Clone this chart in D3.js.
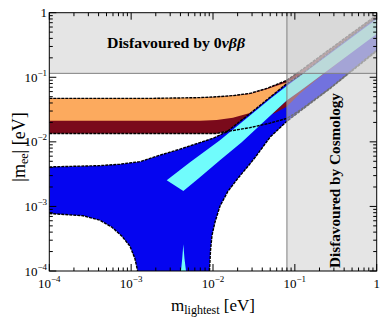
<!DOCTYPE html>
<html><head><meta charset="utf-8">
<script src="https://cdn.jsdelivr.net/npm/d3@7"></script>
<style>body{margin:0;background:#fff}svg{display:block}</style>
</head><body><svg id="c" width="382" height="319"></svg>
<script>
// ---- data (m_lightest [eV], |m_ee| [eV]) ----
const xExponents = [-4, -3, -2, -1, 0];
const yExponents = [-4, -3, -2, -1, 0];
const ihUpper = [[1e-4,0.0471],[1.70e-3,0.0471],[6.93e-3,0.0484],[0.0111,0.0499],[0.0175,0.0520],[0.0283,0.0562],[0.0453,0.0673],[0.0723,0.0851],[0.0802,0.0906],[0.116,0.125],[0.269,0.274],[1,0.92]];
const ihLower = [[1e-4,0.0135],[0.0111,0.0135],[0.0140,0.0143],[0.0283,0.0166],[0.0497,0.0195],[0.0802,0.0231],[0.116,0.031],[0.269,0.068],[1,0.264]];
const ihFillLower = [[1e-4,0.0135],[0.0111,0.0135],[0.0140,0.0143],[0.0214,0.0166],[0.0375,0.0221],[0.0573,0.0279],[0.0794,0.0351],[0.1156,0.0559],[0.176,0.0873],[1,0.484]];
const ihOrangeTop = [[1e-4,0.0469],[6.93e-3,0.0482],[0.0111,0.0497],[0.0175,0.0517],[0.0283,0.0552],[0.0453,0.0650],[0.0723,0.0798],[0.0802,0.083],[0.116,0.11],[1,0.86]];
const ihSplit = [[1e-4,0.0212],[6.93e-3,0.0212],[0.0111,0.0217],[0.0175,0.0237],[0.0283,0.0279],[0.0497,0.0371],[0.0802,0.0511],[0.1156,0.068],[1,0.539]];
const nhUpper = [[1e-4,0.00409],[4.16e-4,0.00428],[7.31e-4,0.00451],[1.28e-3,0.00493],[2.25e-3,0.00622],[3.95e-3,0.00771],[6.93e-3,0.00973],[0.0101,0.0114],[0.0147,0.0143],[0.0283,0.0274],[0.0798,0.0798],[0.116,0.108],[0.269,0.246],[1,0.857]];
const nhLowerLeft = [[1e-4,7.76e-4],[2.58e-4,7.18e-4],[4.16e-4,6.11e-4],[5.83e-4,4.76e-4],[7.73e-4,3.45e-4],[9.68e-4,2.42e-4],[1.11e-3,1.57e-4],[1.20e-3,1e-4]];
const nhLowerRight = [[9.06e-3,1e-4],[9.33e-3,2.09e-4],[9.73e-3,3.57e-4],[0.01057,5.69e-4],[0.01216,1.007e-3],[0.01524,1.72e-3],[0.0202,2.74e-3],[0.0268,4.20e-3],[0.0336,6.00e-3],[0.0498,0.01183],[0.0802,0.0209],[0.116,0.0299],[0.269,0.0668],[1,0.255]];
const cyanUpper = [[2.72e-3,2.55e-3],[5.24e-3,4.84e-3],[0.01216,0.01062],[0.0283,0.0255],[0.0497,0.0459],[0.0794,0.0731],[0.1156,0.1045],[1,0.798]];
const cyanLower = [[4.34e-3,1.74e-3],[6.93e-3,2.84e-3],[0.01216,5.20e-3],[0.02244,9.89e-3],[0.0375,0.01815],[0.0794,0.0435],[0.1156,0.0611],[1,0.468]];
const cyanSpike = [[4.06e-3,1e-4],[4.21e-3,1.57e-4],[4.34e-3,2.59e-4],[4.48e-3,1.57e-4],[4.68e-3,1e-4]];
const cosmoBound = 0.08;
const ovbbBound = 0.115;

// ---- layout ----
const L=49.3, R=376.7, T=12.7, B=271;
const x = d3.scaleLog().domain([1e-4,1]).range([L,R]);
const y = d3.scaleLog().domain([1e-4,1]).range([B,T]);
const svg = d3.select("#c");
svg.append("defs").append("clipPath").attr("id","clip")
  .append("rect").attr("x",L).attr("y",T).attr("width",R-L).attr("height",B-T);
const plot = svg.append("g").attr("clip-path","url(#clip)");
const line = d3.line().x(d=>x(d[0])).y(d=>y(d[1]));
const poly = pts => line(pts)+"Z";
const rev = a => a.slice().reverse();

const BLUE="#0505f0", CYAN="#70fcfc", DRED="#7a0a1b", ORANGE="#fcaa5e";

// NH full region
plot.append("path").attr("d", poly(nhUpper.concat(rev(nhLowerRight), rev(nhLowerLeft)))).attr("fill",BLUE);
// IH region
plot.append("path").attr("d", poly(ihUpper.concat(rev(ihFillLower)))).attr("fill",DRED);
plot.append("path").attr("d", poly(ihOrangeTop.concat(rev(ihSplit)))).attr("fill",ORANGE);
// NH upper strip over IH
const cut = 6.9e-3;
plot.append("path").attr("d", poly(nhUpper.filter(d=>d[0]>=cut).concat(rev(cyanLower.filter(d=>d[0]>=cut))))).attr("fill",BLUE);
// cyan parts
plot.append("path").attr("d", poly(cyanUpper.concat(rev(cyanLower)))).attr("fill",CYAN);
plot.append("path").attr("d", poly(cyanSpike)).attr("fill",CYAN);
// dashed boundaries
[ihUpper, ihLower, nhUpper, nhLowerLeft, nhLowerRight].forEach(a=>{
  plot.append("path").attr("d", line(a)).attr("fill","none").attr("stroke","#000")
    .attr("stroke-width",1.4).attr("stroke-dasharray","3,1");
});
// disfavoured regions
const GREY="#cfcfcf", GA=0.54;
plot.append("rect").attr("x",L).attr("y",T).attr("width",R-L).attr("height",y(ovbbBound)-T)
  .attr("fill",GREY).attr("fill-opacity",GA);
plot.append("rect").attr("x",x(cosmoBound)).attr("y",T).attr("width",R-x(cosmoBound)).attr("height",B-T)
  .attr("fill",GREY).attr("fill-opacity",GA);
plot.append("line").attr("x1",L).attr("x2",R).attr("y1",y(ovbbBound)).attr("y2",y(ovbbBound)).attr("stroke","#808080").attr("stroke-width",1);
plot.append("line").attr("x1",x(cosmoBound)).attr("x2",x(cosmoBound)).attr("y1",T).attr("y2",B).attr("stroke","#808080").attr("stroke-width",1);

// region labels
const serif = "'Liberation Serif','Times New Roman',serif";
const t1 = svg.append("text").attr("x",176).attr("y",48).attr("text-anchor","middle")
  .attr("font-family",serif).attr("font-weight","bold").attr("font-size",14)
  .attr("textLength",138).attr("lengthAdjust","spacingAndGlyphs");
t1.append("tspan").text("Disfavoured by 0");
t1.append("tspan").attr("font-style","italic").text("νββ");
svg.append("text").attr("transform","translate(340,180.5) rotate(-90)").attr("text-anchor","middle")
  .attr("font-family",serif).attr("font-weight","bold").attr("font-size",14)
  .attr("textLength",175).attr("lengthAdjust","spacingAndGlyphs")
  .text("Disfavoured by Cosmology");

// frame
svg.append("rect").attr("x",L).attr("y",T).attr("width",R-L).attr("height",B-T)
  .attr("fill","none").attr("stroke","#000").attr("stroke-width",1);
// ticks
const ticks = svg.append("g").attr("stroke","#000").attr("stroke-width",1);
function addTicks(scale, exps, horiz){
  exps.forEach(e=>{
    const vals=[[Math.pow(10,e),7]];
    if(e<0) for(let k=2;k<=9;k++) vals.push([k*Math.pow(10,e),3.5]);
    vals.forEach(([v,len])=>{
      const p=scale(v);
      if(horiz){
        ticks.append("line").attr("x1",p).attr("x2",p).attr("y1",B).attr("y2",B-len);
        ticks.append("line").attr("x1",p).attr("x2",p).attr("y1",T).attr("y2",T+len);
      } else {
        ticks.append("line").attr("y1",p).attr("y2",p).attr("x1",L).attr("x2",L+len);
        ticks.append("line").attr("y1",p).attr("y2",p).attr("x1",R).attr("x2",R-len);
      }
    });
  });
}
addTicks(x, xExponents, true);
addTicks(y, yExponents, false);
// tick labels
function tickLabel(sel, e){
  if(e===0){ sel.text("1"); return; }
  sel.append("tspan").text("10");
  sel.append("tspan").attr("dy",-6).attr("font-size",9).text("−"+(-e));
}
xExponents.forEach(e=>{
  const t=svg.append("text").attr("x",x(Math.pow(10,e))).attr("y",288).attr("text-anchor","middle")
    .attr("font-family",serif).attr("font-size",13);
  tickLabel(t,e);
});
yExponents.forEach(e=>{
  const t=svg.append("text").attr("x",47).attr("y",y(Math.pow(10,e))+4.5).attr("text-anchor","end")
    .attr("font-family",serif).attr("font-size",13);
  tickLabel(t,e);
});
// axis titles
const xl = svg.append("text").attr("x",213).attr("y",311).attr("text-anchor","middle")
  .attr("font-family",serif).attr("font-size",17);
xl.append("tspan").text("m");
xl.append("tspan").attr("font-size",12).attr("dy",3).text("lightest");
xl.append("tspan").attr("dy",-3).text(" [eV]");
const yl = svg.append("text").attr("transform","translate(25,147) rotate(-90)").attr("text-anchor","middle")
  .attr("font-family",serif).attr("font-size",18);
yl.append("tspan").text("|m");
yl.append("tspan").attr("font-size",12).attr("dy",3).text("ee");
yl.append("tspan").attr("dy",-3).text("| [eV]");
</script>
</body></html>
